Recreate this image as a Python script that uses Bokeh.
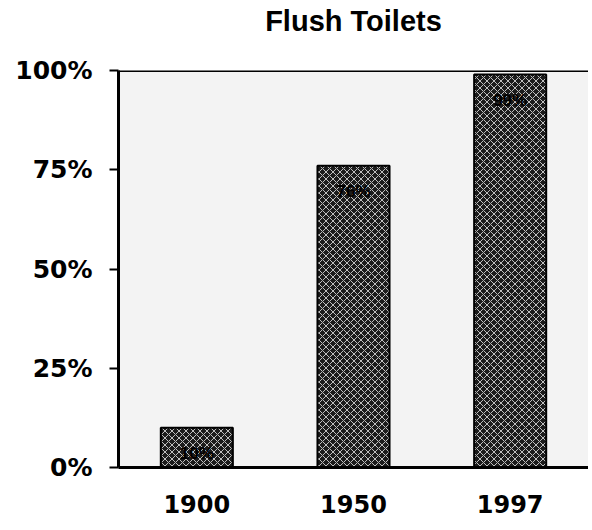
from bokeh.plotting import figure
from bokeh.models import ColumnDataSource, FactorRange, Range1d, FixedTicker, Span, Title
from bokeh.core.properties import value
from bokeh.embed import file_html
from bokeh.resources import INLINE

years = ["1900", "1950", "1997"]
shares = [10, 76, 99]
labels = ["10%", "76%", "99%"]
y_ticks = [0, 25, 50, 75, 100]
y_tick_labels = {0: "0%", 25: "25%", 50: "50%", 75: "75%", 100: "100%"}
chart_title = "Flush Toilets"

src = ColumnDataSource(dict(year=years, share=shares, label=labels))

p = figure(
    width=588, height=522,
    x_range=FactorRange(*years, range_padding=0),
    y_range=Range1d(0, 100),
    output_backend="svg", toolbar_location=None,
    min_border_left=118, min_border_right=0, min_border_top=70, min_border_bottom=55,
    title=chart_title,
)
p.title.align = "center"
p.title.text_font = "Liberation Sans"
p.title.text_font_size = "29px"
p.title.text_font_style = "bold"
p.title.text_color = "black"
p.title.standoff = 0

# blank spacer between the title and the plot frame
spacer = Title(text=" ", text_font_size="25px", standoff=4)
p.add_layout(spacer, "above")

p.background_fill_color = "#f3f3f3"
p.border_fill_color = "white"
p.outline_line_color = None
p.xgrid.grid_line_color = None
p.ygrid.grid_line_color = None

p.vbar(x="year", top="share", width=0.46, source=src,
       fill_color="#1c1c1c", hatch_pattern="diagonal_cross", hatch_color="#c0c0c0",
       hatch_scale=7, hatch_weight=1, line_color="black", line_width=2)

p.text(x="year", y="share", text="label", source=src, y_offset=26,
       text_align="center", text_baseline="middle",
       text_font=value("Liberation Sans"), text_font_size="17px",
       text_font_style="bold", text_color="#000000")

p.add_layout(Span(location=100, dimension="width", line_color="black", line_width=3))

p.yaxis.ticker = FixedTicker(ticks=y_ticks)
p.yaxis.major_label_overrides = y_tick_labels
p.yaxis.major_label_text_font = "DejaVu Sans"
p.yaxis.major_label_text_font_size = "25px"
p.yaxis.major_label_text_font_style = "bold"
p.yaxis.major_label_text_color = "black"
p.yaxis.major_label_standoff = 17
p.yaxis.axis_line_width = 3
p.yaxis.axis_line_color = "black"
p.yaxis.major_tick_line_color = "black"
p.yaxis.major_tick_line_width = 2
p.yaxis.major_tick_in = 0
p.yaxis.major_tick_out = 9
p.yaxis.minor_tick_line_color = None

p.xaxis.major_label_text_font = "DejaVu Sans"
p.xaxis.major_label_text_font_size = "24px"
p.xaxis.major_label_text_font_style = "bold"
p.xaxis.major_label_text_color = "black"
p.xaxis.major_label_standoff = 21
p.xaxis.axis_line_width = 3
p.xaxis.axis_line_color = "black"
p.xaxis.major_tick_line_color = None
p.xaxis.minor_tick_line_color = None

open("out.html", "w").write(file_html(p, INLINE))
